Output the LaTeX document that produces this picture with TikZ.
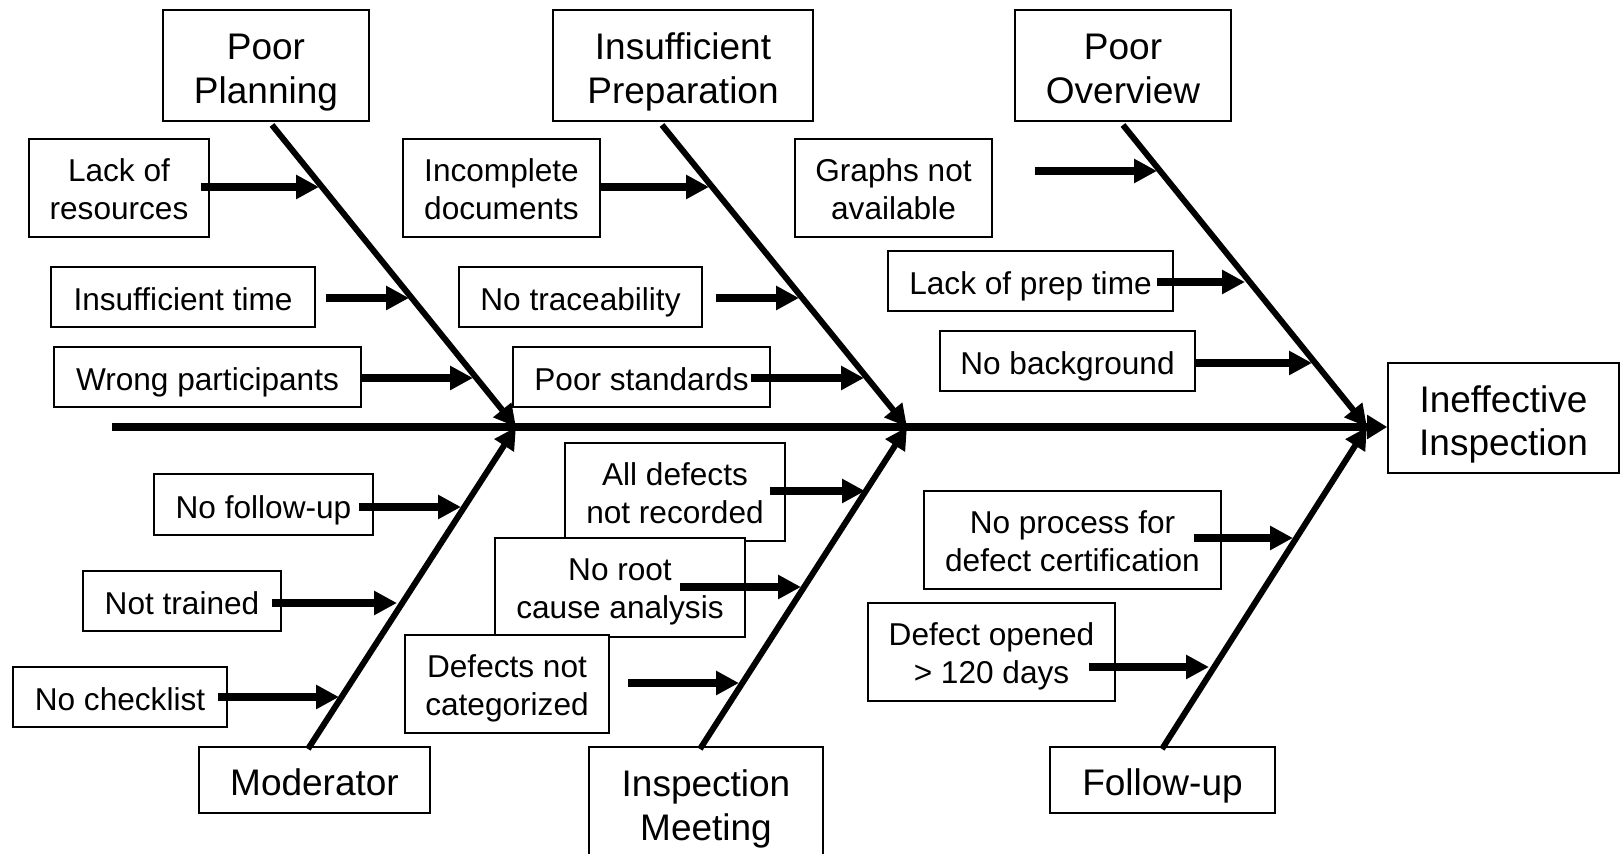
\documentclass[tikz,border=0pt]{standalone}
\usepackage{fontspec}
\setmainfont{Liberation Sans}
\usetikzlibrary{arrows.meta,calc}

\begin{document}
\begin{tikzpicture}[x=0.5pt,y=-0.5pt,
    box/.style={draw, line width=0.8pt, fill=white, align=center, inner sep=0pt,
      execute at begin node={\rule[-0.212em]{0pt}{1.283em}},
      execute at end node={\rule[-0.212em]{0pt}{1.117em}}},
    small/.style={box, font=\fontsize{15.8}{19}\selectfont},
    big/.style={box, font=\fontsize{18.5}{21.75}\selectfont},
    smalltwo/.style={small, text height=34.7pt, text depth=3.35pt},
    bigtwo/.style={big, text height=41.8pt, text depth=3.9pt},
    spine/.style={line width=3.75pt, -{Triangle[length=10pt,width=11.5pt]}},
    bone/.style={line width=3pt, -{Triangle[length=11pt,width=11pt]}},
    cause/.style={line width=4pt, -{Triangle[length=11.5pt,width=11.5pt]}}]
    \useasboundingbox (0,0) rectangle (1624,854);
    \clip (0,0) rectangle (1624,854);

    % Main categories and the effect
    \node[bigtwo, minimum width=103pt, minimum height=55.5pt] (pp) at (266,65.5) {Poor\\Planning};
    \node[bigtwo, minimum width=130pt, minimum height=55.5pt] (ip) at (683,65.5) {Insufficient\\Preparation};
    \node[bigtwo, minimum width=108pt, minimum height=55.5pt] (po) at (1123,65.5) {Poor\\Overview};
    \node[bigtwo, minimum width=115.5pt, minimum height=55pt] (ii) at (1503.5,418) {Ineffective\\Inspection};
    \node[big, minimum width=115.5pt, minimum height=33pt] (mod) at (314.5,780) {Moderator};
    \node[bigtwo, minimum width=117pt, minimum height=55.5pt] (im) at (706,802.5) {Inspection\\Meeting};
    \node[big, minimum width=112.5pt, minimum height=33pt] (fu) at (1162.5,780) {Follow-up};

    % Causes above the spine
    \node[smalltwo, minimum width=90pt, minimum height=49pt] (lr) at (119,188) {Lack of\\resources};
    \node[small, minimum width=132pt, minimum height=30pt] (it) at (183,297) {Insufficient time};
    \node[small, minimum width=153.5pt, minimum height=30pt] (wp) at (207.5,377) {Wrong participants};
    \node[smalltwo, minimum width=98.5pt, minimum height=49pt] (id) at (501.5,188) {Incomplete\\documents};
    \node[small, minimum width=121.5pt, minimum height=30pt] (nt) at (580.5,297) {No traceability};
    \node[small, minimum width=128.5pt, minimum height=30pt] (ps) at (641.5,377) {Poor standards};
    \node[smalltwo, minimum width=98.5pt, minimum height=49pt] (gn) at (893.5,188) {Graphs not\\available};
    \node[small, minimum width=142.5pt, minimum height=30pt] (lp) at (1030.5,281) {Lack of prep time};
    \node[small, minimum width=127.5pt, minimum height=30pt] (nb) at (1067.5,361) {No background};

    % Causes below the spine
    \node[small, minimum width=109.5pt, minimum height=30.5pt] (nf) at (263.5,504.5) {No follow-up};
    \node[small, minimum width=99pt, minimum height=30pt] (ntr) at (182,601) {Not trained};
    \node[small, minimum width=107pt, minimum height=30pt] (nc) at (120,697) {No checklist};
    \node[smalltwo, minimum width=110pt, minimum height=49pt] (ad) at (675,492) {All defects\\not recorded};
    \node[smalltwo, minimum width=125pt, minimum height=49.5pt] (nr) at (620,587.5) {No root\\cause analysis};
    \node[smalltwo, minimum width=102pt, minimum height=49pt] (dc) at (507,684) {Defects not\\categorized};
    \node[smalltwo, minimum width=148.5pt, minimum height=49pt] (np) at (1072.5,540) {No process for\\defect certification};
    \node[smalltwo, minimum width=123.5pt, minimum height=49pt] (do) at (991.5,652) {Defect opened\\> 120 days};

    % Spine and bones
    \coordinate (tail) at (112,427);
    \coordinate (j1) at (516,427);
    \coordinate (j2) at (907,427);
    \coordinate (j3) at (1367,427);
    \draw[spine] (tail) -- (ii.west |- tail);
    \draw[bone] (272,125) -- (j1);
    \draw[bone] (662,125) -- (j2);
    \draw[bone] (1123,125) -- (j3);
    \draw[bone] (308,749) -- (j1);
    \draw[bone] (700,749) -- (j2);
    \draw[bone] (1162,749) -- (j3);

    % Points where the cause arrows meet the bones
    \coordinate (a1) at (319,187);  \coordinate (a2) at (409,298);  \coordinate (a3) at (473,378);
    \coordinate (a4) at (709,187);  \coordinate (a5) at (799,298);  \coordinate (a6) at (864,378);
    \coordinate (a7) at (1157,171); \coordinate (a8) at (1245,282); \coordinate (a9) at (1312,363);
    \coordinate (a10) at (461,507); \coordinate (a11) at (397,603); \coordinate (a12) at (339,697);
    \coordinate (a13) at (865,491); \coordinate (a14) at (801,587); \coordinate (a15) at (739,683);
    \coordinate (a16) at (1293,538); \coordinate (a17) at (1209,667);

    % Cause arrows
    \draw[cause] ($(lr.east |- a1)+(-9,0)$) -- (a1);
    \draw[cause] ($(it.east |- a2)+(10,0)$) -- (a2);
    \draw[cause] (wp.east |- a3) -- (a3);
    \draw[cause] (id.east |- a4) -- (a4);
    \draw[cause] ($(nt.east |- a5)+(13,0)$) -- (a5);
    \draw[cause] ($(ps.east |- a6)+(-20,0)$) -- (a6);
    \draw[cause] ($(gn.east |- a7)+(42,0)$) -- (a7);
    \draw[cause] ($(lp.east |- a8)+(-17,0)$) -- (a8);
    \draw[cause] (nb.east |- a9) -- (a9);
    \draw[cause] ($(nf.east |- a10)+(-15,0)$) -- (a10);
    \draw[cause] ($(ntr.east |- a11)+(-10,0)$) -- (a11);
    \draw[cause] ($(nc.east |- a12)+(-10,0)$) -- (a12);
    \draw[cause] ($(ad.east |- a13)+(-16,0)$) -- (a13);
    \draw[cause] ($(nr.east |- a14)+(-66,0)$) -- (a14);
    \draw[cause] ($(dc.east |- a15)+(18,0)$) -- (a15);
    \draw[cause] ($(np.east |- a16)+(-28,0)$) -- (a16);
    \draw[cause] ($(do.east |- a17)+(-27,0)$) -- (a17);
\end{tikzpicture}
\end{document}
